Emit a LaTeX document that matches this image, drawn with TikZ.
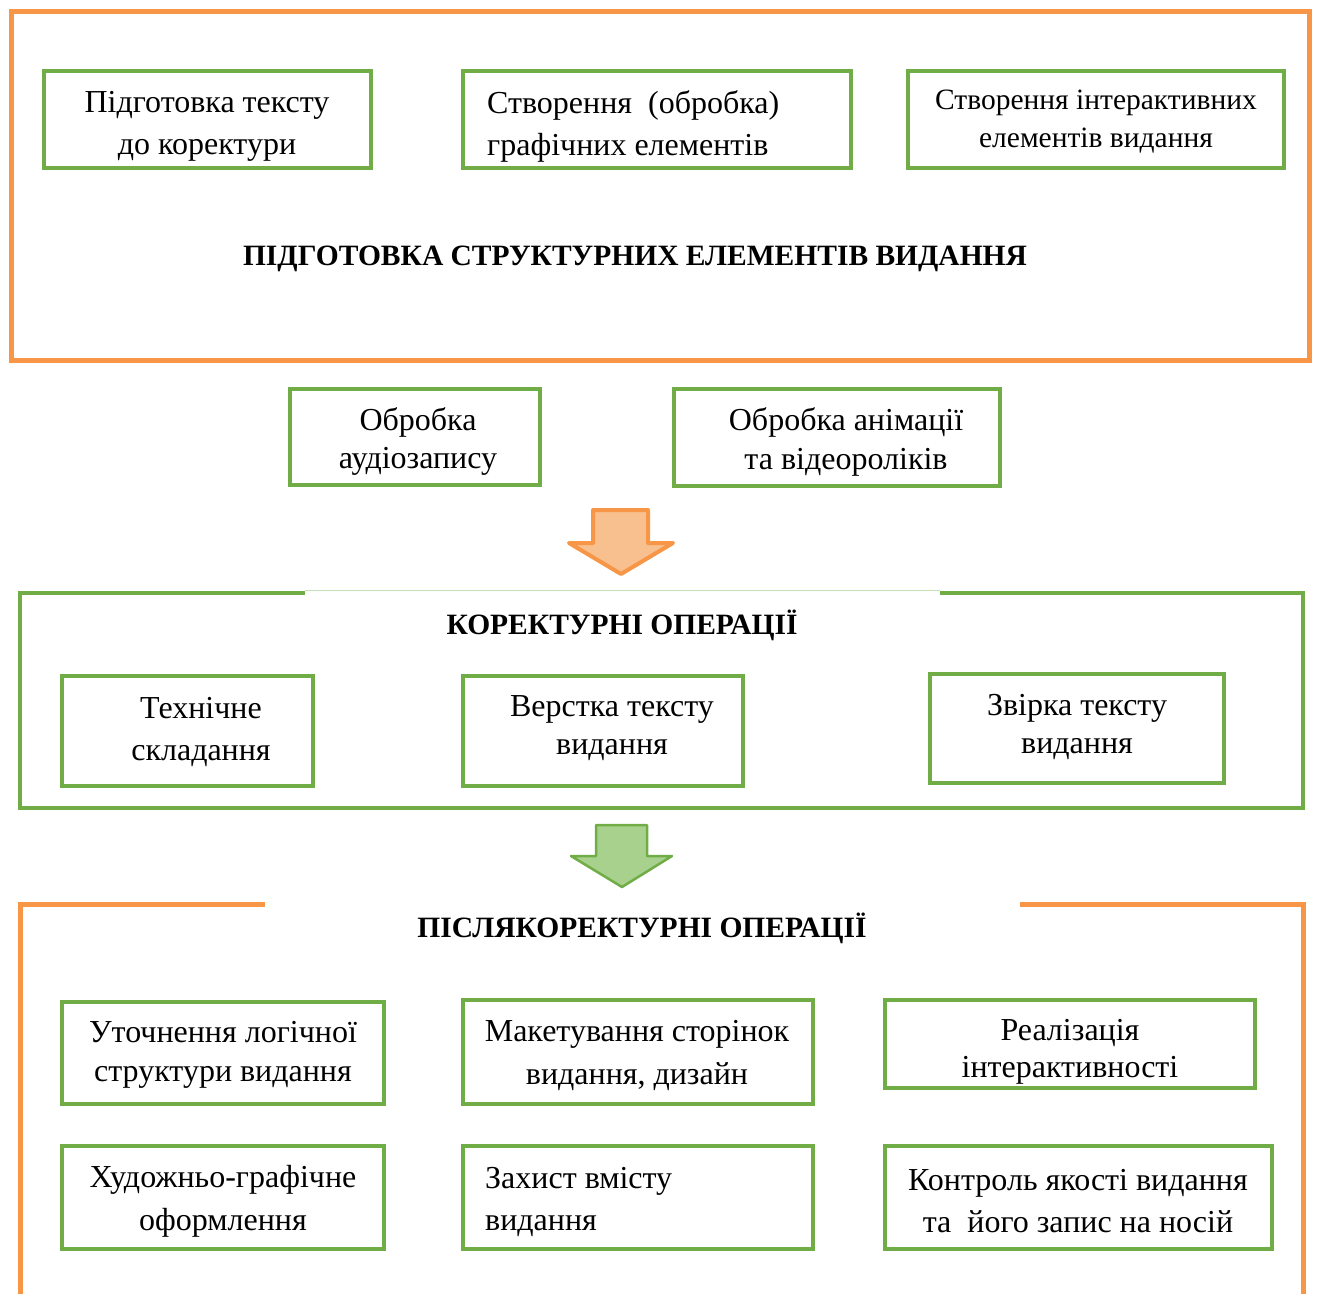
\documentclass[tikz,border=0pt]{standalone}
\usepackage{fontspec}
\setmainfont{Liberation Serif}
\definecolor{gr}{HTML}{70AD47}
\definecolor{lgr}{HTML}{C5E0B4}
\definecolor{gfill}{HTML}{A9D18E}
\definecolor{og}{HTML}{F79646}
\definecolor{ofill}{HTML}{F9C08F}
\tikzset{
  gbox/.style={draw=gr, line width=4pt, rectangle, inner sep=0pt},
  txt/.style={align=center, inner sep=0pt, font=\fontsize{32}{#1}\selectfont},
  txt/.default=42,
  ttl/.style={font=\bfseries\fontsize{29.5}{32}\selectfont, inner sep=0pt},
  oframe/.style={draw=og, line width=5pt},
  gframe/.style={draw=gr, line width=4.5pt},
}
\begin{document}
\begin{tikzpicture}[x=1pt,y=-1pt]
\useasboundingbox (0,0) rectangle (1317,1294);
% top frame
\draw[oframe] (11.5,11.5) rectangle (1309.5,360.5);
\node[gbox, minimum width=327pt, minimum height=97pt] (a1) at (207.5,119.5) {};
\node[txt] (a1t) at (207,126) {Підготовка тексту\\до коректури};
\node[gbox, minimum width=388pt, minimum height=97pt] (a2) at (657,119.5) {};
\node[txt, align=left, anchor=west] (a2t) at (487,126) {Створення \ (обробка)\\графічних елементів};
\node[gbox, minimum width=376pt, minimum height=97pt] (a3) at (1096,119.5) {};
\node[txt, font=\fontsize{29.5}{38}\selectfont] (a3t) at (1096,121.5) {Створення інтерактивних\\елементів видання};
\node[ttl] (t1) at (635,259) {ПІДГОТОВКА СТРУКТУРНИХ ЕЛЕМЕНТІВ ВИДАННЯ};
% middle boxes
\node[gbox, minimum width=250pt, minimum height=96pt] (m1) at (415,437) {};
\node[txt=38] (m1t) at (418,441.5) {Обробка\\аудіозапису};
\node[gbox, minimum width=326pt, minimum height=97pt] (m2) at (837,437.5) {};
\node[txt=39] (m2t) at (846,442) {Обробка анімації\\та відеороліків};
% orange arrow
\draw[draw=og, fill=ofill, line width=4pt, line join=round] (593,510) -- (648,510) -- (648,543) -- (673,543) -- (621,574) -- (569,543) -- (593,543) -- cycle;
% correction frame
\draw[gframe] (305,593) -- (20,593) -- (20,808) -- (1303,808) -- (1303,593) -- (940,593);
\draw[draw=lgr, line width=1.5pt] (305,590.5) -- (940,590.5);
\node[ttl] (t2) at (622,625) {КОРЕКТУРНІ ОПЕРАЦІЇ};
\node[gbox, minimum width=251pt, minimum height=110pt] (k1) at (187.5,731) {};
\node[txt] (k1t) at (201,731.5) {Технічне\\складання};
\node[gbox, minimum width=280pt, minimum height=110pt] (k2) at (603,731) {};
\node[txt=38] (k2t) at (612,728.5) {Верстка тексту\\видання};
\node[gbox, minimum width=294pt, minimum height=109pt] (k3) at (1077,728.5) {};
\node[txt=38] (k3t) at (1077,726.5) {Звірка тексту\\видання};
% green arrow
\draw[draw=gr, fill=gfill, line width=2.5pt, line join=round] (596,825) -- (647,825) -- (647,856) -- (672,856) -- (622,887) -- (571,856) -- (596,856) -- cycle;
% post-correction frame
\draw[oframe] (265,904.5) -- (20.5,904.5) -- (20.5,1294);
\draw[oframe] (1020,904.5) -- (1303.5,904.5) -- (1303.5,1294);
\node[ttl] (t3) at (642,928) {ПІСЛЯКОРЕКТУРНІ ОПЕРАЦІЇ};
\node[gbox, minimum width=322pt, minimum height=102pt] (p1) at (223,1053) {};
\node[txt=39] (p1t) at (223,1055) {Уточнення логічної\\структури видання};
\node[gbox, minimum width=350pt, minimum height=104pt] (p2) at (638,1052) {};
\node[txt=43] (p2t) at (637,1055) {Макетування сторінок\\видання, дизайн};
\node[gbox, minimum width=370pt, minimum height=88pt] (p3) at (1070,1044) {};
\node[txt=37] (p3t) at (1070,1052) {Реалізація\\інтерактивності};
\node[gbox, minimum width=322pt, minimum height=103pt] (p4) at (223,1197.5) {};
\node[txt=43] (p4t) at (223,1201) {Художньо-графічне\\оформлення};
\node[gbox, minimum width=350pt, minimum height=103pt] (p5) at (638,1197.5) {};
\node[txt, align=left, anchor=west] (p5t) at (485,1201.5) {Захист вмісту\\видання};
\node[gbox, minimum width=387pt, minimum height=103pt] (p6) at (1078.5,1197.5) {};
\node[txt] (p6t) at (1078,1201.5) {Контроль якості видання\\та \ його запис на носій};
\end{tikzpicture}
\end{document}
